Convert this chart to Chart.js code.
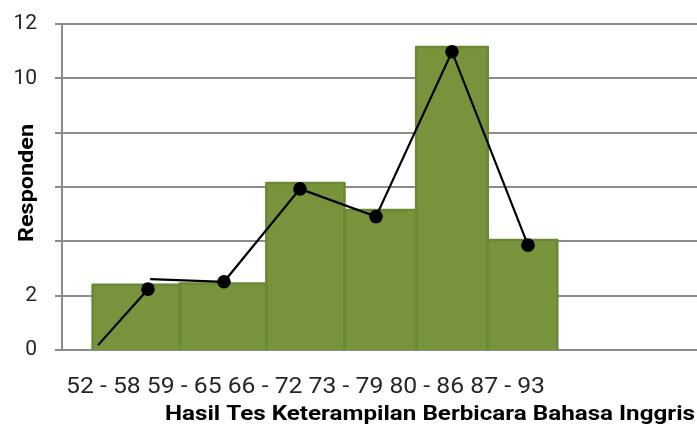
<!DOCTYPE html>
<html>
<head>
<meta charset="utf-8">
<title>Hasil Tes Keterampilan Berbicara Bahasa Inggris</title>
<script src="https://cdn.jsdelivr.net/npm/chart.js@4/dist/chart.umd.min.js"></script>
<style>
  html, body { margin: 0; padding: 0; background: #ffffff; }
  #wrap { width: 697px; height: 426px; }
</style>
</head>
<body>
<div id="wrap"><canvas id="chart" width="697" height="426"></canvas></div>
<script>
// Score classes (interval labels) and their class marks
const classLabels = ['52 - 58', '59 - 65', '66 - 72', '73 - 79', '80 - 86', '87 - 93'];
const classMarks = [55, 62, 69, 76, 83, 90];

// Histogram bars: edges along the score axis and bar heights (respondents)
const binEdges = [49.9, 57.9, 65.9, 73.1, 79.7, 86.3, 92.7];
const barHeights = [2.4, 2.45, 6.15, 5.15, 11.15, 4.05];

// Frequency polygon values at each class mark
const polygonValues = [2.24, 2.51, 5.93, 4.91, 10.98, 3.86];
const polygonStart = { x: 50.4, y: 0.18 };
const polygonRejoin = { x: 55.2, y: 2.61 };

// Y axis ticks that carry a printed label
const labelledTicks = [0, 2, 10, 12];

const xTitle = 'Hasil Tes Keterampilan Berbicara Bahasa Inggris';
const yTitle = 'Responden';

const BAR_FILL = '#77933c';
const BAR_EDGE = '#6b8834';
const GRID = '#8c8c8c';

// One filled outline per histogram bar
const barSets = barHeights.map((h, i) => ({
  type: 'line',
  label: classLabels[i],
  data: [
    { x: binEdges[i], y: 0 },
    { x: binEdges[i], y: h },
    { x: binEdges[i + 1], y: h },
    { x: binEdges[i + 1], y: 0 }
  ],
  fill: 'origin',
  backgroundColor: BAR_FILL,
  borderColor: BAR_EDGE,
  borderWidth: 2.5,
  borderJoinStyle: 'round',
  pointRadius: 0,
  tension: 0,
  order: 2
}));

// Frequency polygon drawn over the bars
const polygonData = [
  polygonStart,
  { x: classMarks[0], y: polygonValues[0] },
  { x: (classMarks[0] + polygonRejoin.x) / 2, y: null },
  polygonRejoin
].concat(classMarks.slice(1).map((m, i) => ({ x: m, y: polygonValues[i + 1] })));

const polygonSet = {
  type: 'line',
  label: 'Frekuensi',
  data: polygonData,
  borderColor: '#000000',
  borderWidth: 2.2,
  backgroundColor: '#000000',
  pointBackgroundColor: '#000000',
  pointBorderWidth: 0,
  pointRadius: c => (c.raw && c.raw.y !== null && classMarks.includes(c.raw.x)) ? 6.8 : 0,
  fill: false,
  spanGaps: false,
  tension: 0,
  order: 0
};

// Draws a string stretched or condensed to a given width
function fitText(ctx, text, x, y, width) {
  const natural = ctx.measureText(text).width;
  ctx.save();
  ctx.translate(x, y);
  ctx.scale(width / natural, 1);
  ctx.fillText(text, 0, 0);
  ctx.restore();
}

// Category labels under the plot and the two axis titles
const textPlugin = {
  id: 'axisTexts',
  afterDraw(chart) {
    const ctx = chart.ctx;
    ctx.save();
    ctx.textBaseline = 'alphabetic';
    ctx.textAlign = 'left';

    ctx.fillStyle = '#262626';
    ctx.font = '22px Roboto';
    fitText(ctx, classLabels.join(' '), 66, 393, 479);

    ctx.fillStyle = '#000000';
    ctx.font = 'bold 21px Roboto';
    fitText(ctx, xTitle, 165, 420, 530);

    ctx.translate(33, 242);
    ctx.rotate(-Math.PI / 2);
    ctx.font = 'bold 21px Roboto';
    fitText(ctx, yTitle, 0, 0, 118);
    ctx.restore();
  }
};

new Chart(document.getElementById('chart'), {
  type: 'line',
  data: { datasets: [polygonSet].concat(barSets) },
  options: {
    responsive: false,
    devicePixelRatio: 1,
    animation: false,
    layout: { autoPadding: false, padding: { top: 24, bottom: 76, left: 0, right: 0 } },
    plugins: {
      legend: { display: false },
      tooltip: { enabled: false }
    },
    scales: {
      x: {
        type: 'linear',
        min: 47.08,
        max: 105.57,
        display: false
      },
      y: {
        min: 0,
        max: 12,
        afterFit: s => { s.width = 62; s.paddingTop = 0; s.paddingBottom = 0; },
        ticks: {
          stepSize: 2,
          padding: 18,
          color: '#262626',
          font: { family: 'Roboto', size: 21 },
          callback: v => labelledTicks.includes(v) ? String(v) : ''
        },
        grid: {
          color: GRID,
          lineWidth: 2,
          tickLength: 7,
          drawTicks: true
        },
        border: { color: GRID, width: 2 }
      }
    }
  },
  plugins: [textPlugin]
});
</script>
</body>
</html>
